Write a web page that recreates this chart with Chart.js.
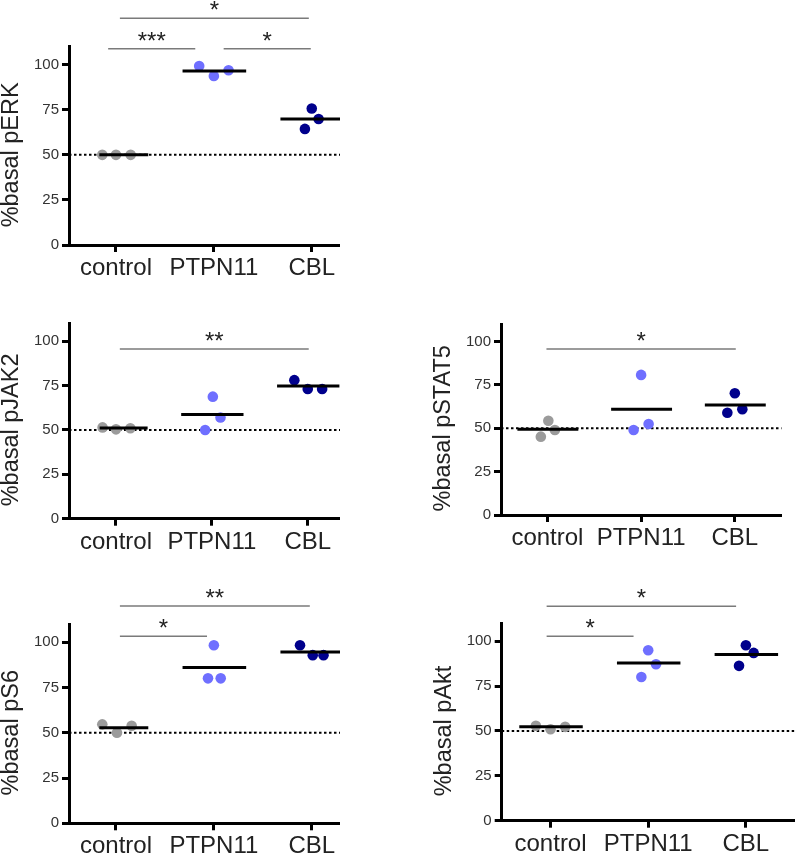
<!DOCTYPE html>
<html>
<head>
<meta charset="utf-8">
<script src="https://cdn.jsdelivr.net/npm/chart.js@4.4.1/dist/chart.umd.min.js"></script>
<style>
    html, body { margin: 0; padding: 0; background: #fff; }
    body { width: 800px; height: 857px; position: relative; overflow: hidden; }
    .panel { position: absolute; overflow: hidden; }
</style>
</head>
<body>
<div class="panel" id="box-perk"><canvas id="perk"></canvas></div>
<div class="panel" id="box-pjak2"><canvas id="pjak2"></canvas></div>
<div class="panel" id="box-pstat5"><canvas id="pstat5"></canvas></div>
<div class="panel" id="box-ps6"><canvas id="ps6"></canvas></div>
<div class="panel" id="box-pakt"><canvas id="pakt"></canvas></div>
<script>
// 数据
const categories = ['control', 'PTPN11', 'CBL'];
const yTicks = [0, 25, 50, 75, 100];
const baseline = 50;

// pERK
const perkValues = [[50, 50, 50], [99.3, 93.8, 96.9], [64.4, 75.7, 69.9]];
const perkX = [[0.86, 1.0, 1.15], [1.85, 2.0, 2.15], [2.93, 3.0, 3.07]];
const perkMeans = [50, 96.5, 69.9];
const perkBrackets = [
    { from: 0.92, to: 1.81, level: 108.8, label: '***' },
    { from: 2.1, to: 2.99, level: 108.8, label: '*' },
    { from: 1.04, to: 2.97, level: 125.8, label: '*' }
];

// pJAK2
const pjak2Values = [[51.4, 50.3, 50.9], [49.9, 68.7, 57.0], [78, 73, 73]];
const pjak2X = [[0.86, 1.0, 1.15], [1.93, 2.01, 2.09], [2.86, 3.0, 3.15]];
const pjak2Means = [51, 58.7, 74.7];
const pjak2Brackets = [
    { from: 1.04, to: 3.01, level: 95.5, label: '**' }
];

// pSTAT5
const pstat5Values = [[45.2, 54.4, 49.0], [49.0, 80.8, 52.5], [59.0, 70.2, 61.0]];
const pstat5X = [[0.93, 1.01, 1.08], [1.92, 2.0, 2.08], [2.92, 3.0, 3.08]];
const pstat5Means = [49.4, 61.0, 63.5];
const pstat5Brackets = [
    { from: 0.99, to: 3.01, level: 95.8, label: '*' }
];

// pS6
const ps6Values = [[54.6, 50.0, 53.8], [80.0, 98.3, 80.0], [98.3, 92.8, 92.8]];
const ps6X = [[0.86, 1.01, 1.16], [1.94, 2.0, 2.07], [2.88, 3.01, 3.12]];
const ps6Means = [52.7, 86.0, 94.6];
const ps6Brackets = [
    { from: 1.04, to: 1.93, level: 103.3, label: '*' },
    { from: 1.04, to: 2.98, level: 119.9, label: '**' }
];

// pAkt
const paktValues = [[52.9, 51.0, 52.3], [80.1, 95.0, 87.2], [86.3, 97.8, 93.5]];
const paktX = [[0.85, 1.0, 1.15], [1.93, 2.0, 2.08], [2.93, 3.0, 3.08]];
const paktMeans = [52.3, 87.9, 92.6];
const paktBrackets = [
    { from: 0.96, to: 1.85, level: 102.8, label: '*' },
    { from: 0.96, to: 2.90, level: 119.5, label: '*' }
];

// 样式
const FONT = '"Liberation Sans", Arial, Helvetica, sans-serif';
const groupColors = ['#9b9b9b', '#6f6fff', '#00008c'];

// 面板布局
const panels = [
    { id: 'perk', title: '%basal pERK', values: perkValues, xs: perkX, means: perkMeans, brackets: perkBrackets,
      left: 0, top: 0, w: 366, h: 290, clipW: 340, padTop: 46.7, axisW: 69, xh: 45, xMin: 0.52, meanLeft: [0.17, 0.32, 0.32] },
    { id: 'pjak2', title: '%basal pJAK2', values: pjak2Values, xs: pjak2X, means: pjak2Means, brackets: pjak2Brackets,
      left: 0, top: 290, w: 361, h: 270, clipW: 340, padTop: 33.3, axisW: 69, xh: 41.3, xMin: 0.51, meanLeft: [0.17, 0.32, 0.32] },
    { id: 'pstat5', title: '%basal pSTAT5', values: pstat5Values, xs: pstat5X, means: pstat5Means, brackets: pstat5Brackets,
      left: 431, top: 290, w: 356, h: 270, clipW: 356, padTop: 34.3, axisW: 70, xh: 45, xMin: 0.505, meanLeft: [0.32, 0.32, 0.32] },
    { id: 'ps6', title: '%basal pS6', values: ps6Values, xs: ps6X, means: ps6Means, brackets: ps6Brackets,
      left: 0, top: 560, w: 366, h: 297, clipW: 340, padTop: 64, axisW: 69, xh: 33.7, xMin: 0.52, meanLeft: [0.17, 0.32, 0.32] },
    { id: 'pakt', title: '%basal pAkt', values: paktValues, xs: paktX, means: paktMeans, brackets: paktBrackets,
      left: 431, top: 560, w: 369, h: 297, clipW: 369, padTop: 63.3, axisW: 70.7, xh: 36.3, xMin: 0.5, meanLeft: [0.32, 0.32, 0.32] }
];

// 轴标题 + 显著性标记
const decorPlugin = {
    id: 'decor',
    afterDraw(chart, args, opts) {
        const { ctx } = chart;
        const x = chart.scales.x, y = chart.scales.y;

        ctx.save();
        const cy = (y.getPixelForValue(0) + y.getPixelForValue(100)) / 2;
        ctx.translate(x.left - 57, cy);
        ctx.rotate(-Math.PI / 2);
        ctx.font = '23.5px ' + FONT;
        ctx.fillStyle = '#222';
        ctx.textAlign = 'center';
        ctx.textBaseline = 'middle';
        ctx.fillText(opts.title, 0, 0);
        ctx.restore();

        ctx.save();
        opts.brackets.forEach(b => {
            const x1 = x.getPixelForValue(b.from);
            const x2 = x.getPixelForValue(b.to);
            const py = y.getPixelForValue(b.level);
            ctx.strokeStyle = '#7a7a7a';
            ctx.lineWidth = 1.5;
            ctx.beginPath();
            ctx.moveTo(x1, py);
            ctx.lineTo(x2, py);
            ctx.stroke();
            ctx.fillStyle = '#222';
            ctx.font = '24px ' + FONT;
            ctx.textAlign = 'center';
            ctx.textBaseline = 'alphabetic';
            ctx.fillText(b.label, (x1 + x2) / 2, py);
        });
        ctx.restore();
    }
};

function makePanel(p) {
    const box = document.getElementById('box-' + p.id);
    box.style.left = p.left + 'px';
    box.style.top = p.top + 'px';
    box.style.width = p.clipW + 'px';
    box.style.height = p.h + 'px';
    const canvas = document.getElementById(p.id);
    canvas.width = p.w;
    canvas.height = p.h;
    canvas.style.width = p.w + 'px';
    canvas.style.height = p.h + 'px';

    const datasets = [];
    // 均值线
    p.means.forEach((m, i) => {
        datasets.push({
            type: 'line',
            data: [{ x: i + 1 - p.meanLeft[i], y: m }, { x: i + 1 + 0.33, y: m }],
            borderColor: '#000',
            borderWidth: 3,
            borderCapStyle: 'butt',
            pointRadius: 0
        });
    });
    // 数据点
    p.values.forEach((vals, i) => {
        datasets.push({
            type: 'scatter',
            data: vals.map((v, k) => ({ x: p.xs[i][k], y: v })),
            backgroundColor: groupColors[i],
            borderWidth: 0,
            pointRadius: 5.3
        });
    });
    // 基线
    datasets.push({
        type: 'line',
        data: [{ x: p.xMin, y: baseline }, { x: 3.5, y: baseline }],
        borderColor: '#000',
        borderWidth: 2,
        borderDash: [2.5, 2.5],
        pointRadius: 0
    });

    const gridOpts = {
        drawOnChartArea: false,
        drawTicks: true,
        tickLength: 7,
        tickWidth: 3,
        tickColor: '#000'
    };

    return new Chart(canvas, {
        type: 'scatter',
        data: { datasets },
        plugins: [decorPlugin],
        options: {
            responsive: false,
            animation: false,
            devicePixelRatio: 1,
            layout: { padding: { top: p.padTop, right: 0, left: 0, bottom: 0 } },
            plugins: {
                legend: { display: false },
                tooltip: { enabled: false },
                decor: { title: p.title, brackets: p.brackets }
            },
            scales: {
                x: {
                    type: 'linear',
                    min: p.xMin,
                    max: 3.5,
                    afterBuildTicks: s => { s.ticks = categories.map((c, i) => ({ value: i + 1 })); },
                    afterFit: s => { s.height = p.xh; },
                    ticks: {
                        callback: (v, i) => categories[i],
                        font: { family: FONT, size: 24 },
                        color: '#222',
                        padding: 2,
                        autoSkip: false,
                        maxRotation: 0
                    },
                    grid: gridOpts,
                    border: { color: '#000', width: 3 }
                },
                y: {
                    min: 0,
                    max: 110,
                    afterBuildTicks: s => { s.ticks = yTicks.map(v => ({ value: v })); },
                    afterFit: s => { s.width = p.axisW; },
                    ticks: {
                        font: { family: FONT, size: 15 },
                        color: '#333',
                        padding: 3
                    },
                    grid: gridOpts,
                    border: { color: '#000', width: 3 }
                }
            }
        }
    });
}

panels.forEach(makePanel);
</script>
</body>
</html>
